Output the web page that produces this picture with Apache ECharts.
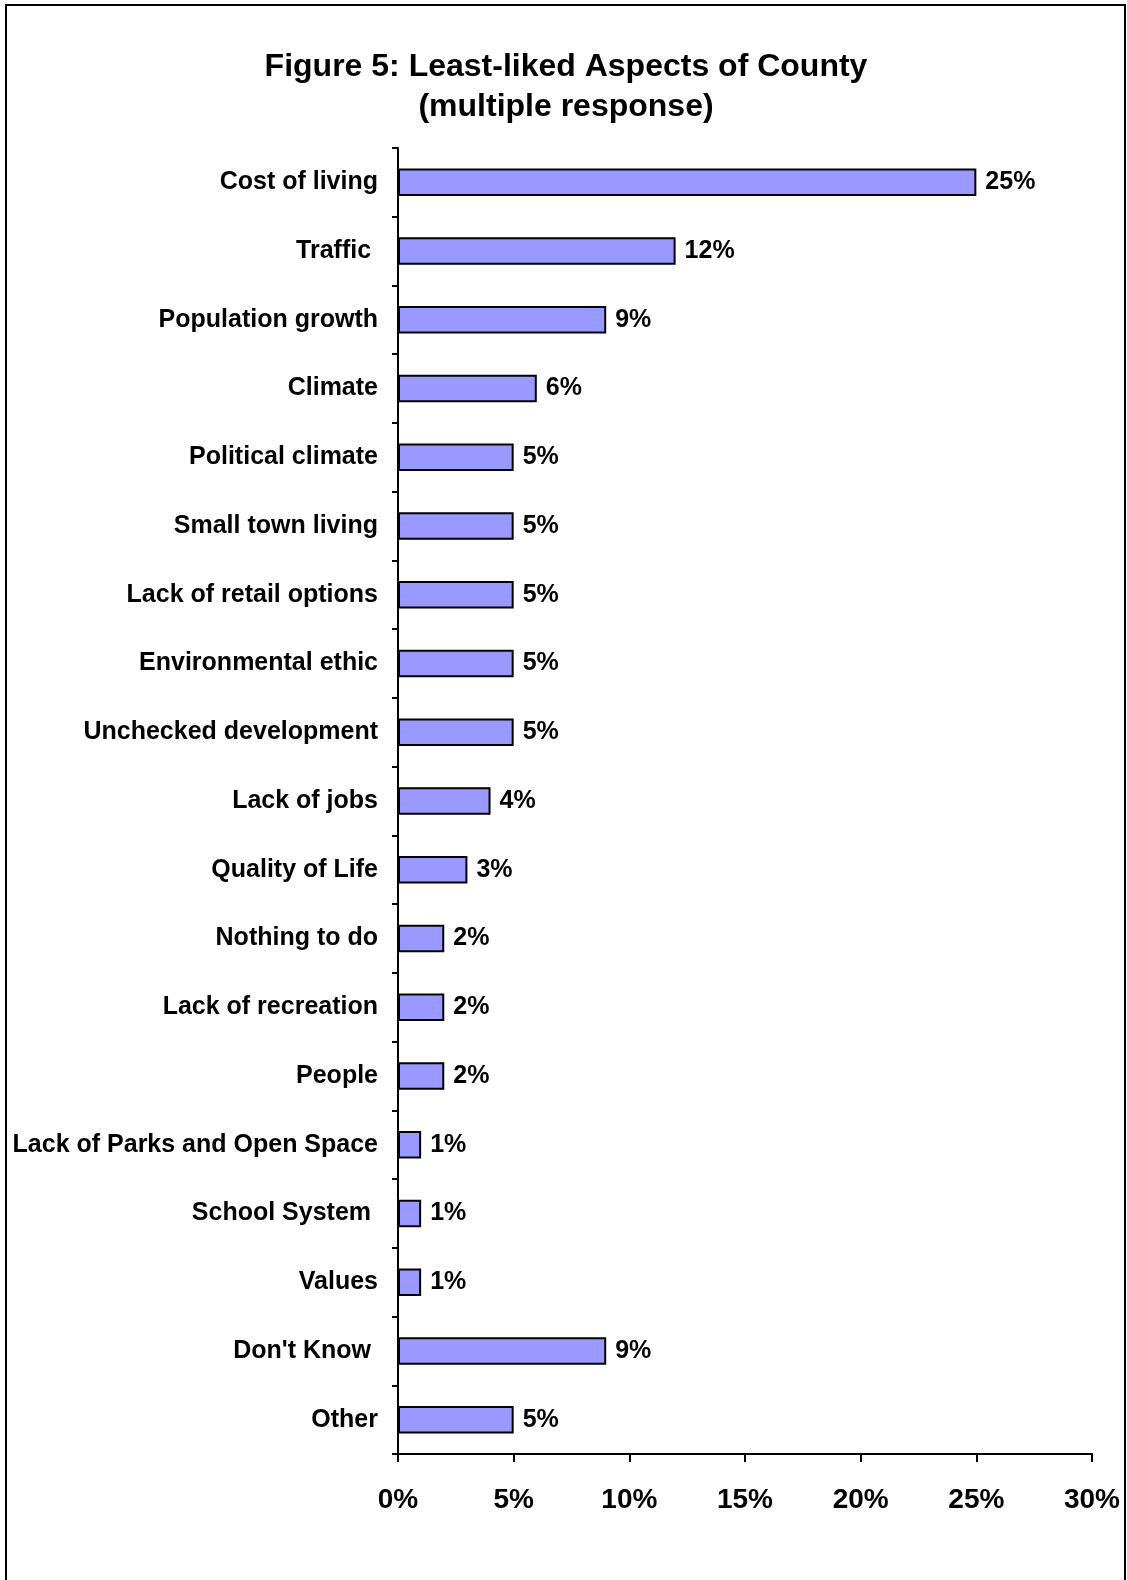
<!DOCTYPE html>
<html>
<head>
<meta charset="utf-8">
<script src="https://cdn.jsdelivr.net/npm/echarts@6/dist/echarts.min.js"></script>
<style>
html,body{margin:0;padding:0;background:#fff;}
#c{width:1127px;height:1580px;}
</style>
</head>
<body>
<div id="c"></div>
<script>
const titleLines = ['Figure 5: Least-liked Aspects of County', '(multiple response)'];
const categories = ['Cost of living', 'Traffic ', 'Population growth', 'Climate', 'Political climate',
  'Small town living', 'Lack of retail options', 'Environmental ethic', 'Unchecked development',
  'Lack of jobs', 'Quality of Life', 'Nothing to do', 'Lack of recreation', 'People',
  'Lack of Parks and Open Space', 'School System ', 'Values', "Don't Know ", 'Other'];
const values = [25, 12, 9, 6, 5, 5, 5, 5, 5, 4, 3, 2, 2, 2, 1, 1, 1, 9, 5];
const xTicks = [0, 5, 10, 15, 20, 25, 30];

const font = 'Arial, "Liberation Sans", sans-serif';
const chart = echarts.init(document.getElementById('c'), null, {renderer: 'canvas'});
chart.setOption({
  backgroundColor: '#fff',
  animation: false,
  title: {
    text: titleLines.join('\n'),
    left: 566, top: 47, textAlign: 'center', padding: 0,
    textStyle: {fontFamily: font, fontWeight: 'bold', fontSize: 32, color: '#000', lineHeight: 40}
  },
  graphic: [{
    type: 'rect', shape: {x: 6, y: 5, width: 1119, height: 1600},
    style: {fill: 'none', stroke: '#000', lineWidth: 2}, z: 100, silent: true
  }],
  grid: {left: 398, right: 35, top: 148, bottom: 126, containLabel: false},
  xAxis: {
    type: 'value', min: xTicks[0], max: xTicks[xTicks.length - 1], interval: 5,
    axisLine: {show: true, lineStyle: {color: '#000', width: 2}},
    axisTick: {show: true, length: 8, lineStyle: {color: '#000', width: 2}},
    splitLine: {show: false},
    axisLabel: {formatter: '{value}%', fontFamily: font, fontWeight: 'bold', fontSize: 28, color: '#000', margin: 32}
  },
  yAxis: {
    type: 'category', data: categories, inverse: true,
    axisLine: {show: true, lineStyle: {color: '#000', width: 2}},
    axisTick: {show: true, length: 6, alignWithLabel: false, lineStyle: {color: '#000', width: 2}},
    axisLabel: {fontFamily: font, fontWeight: 'bold', fontSize: 25, color: '#000', margin: 20}
  },
  series: [{
    type: 'bar', data: values, barWidth: '40%',
    itemStyle: {color: '#9999FF', borderColor: '#000', borderWidth: 2},
    label: {show: true, position: 'right', distance: 9, formatter: '{c}%',
      fontFamily: font, fontWeight: 'bold', fontSize: 25, color: '#000'}
  }]
});
</script>
</body>
</html>
